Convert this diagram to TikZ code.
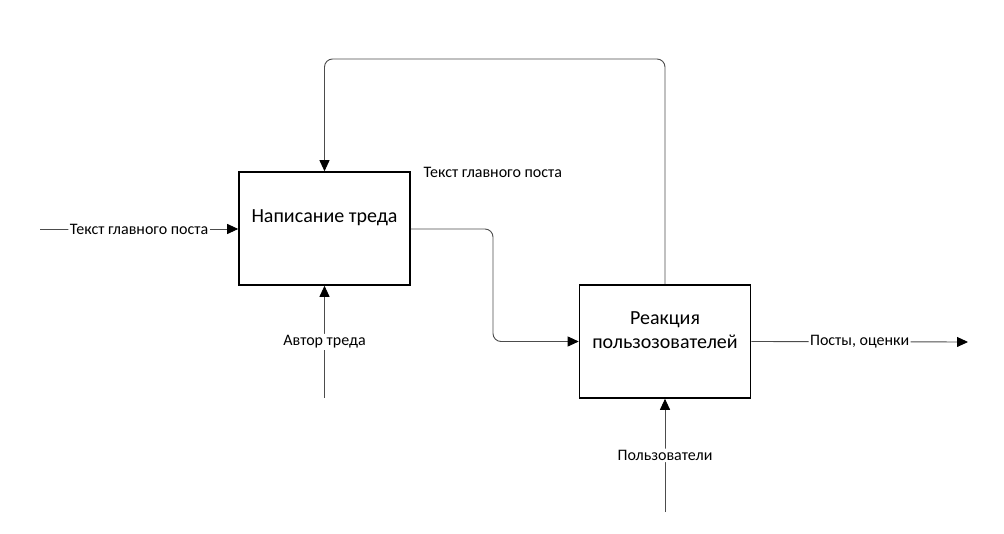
\documentclass[tikz,border=0pt]{standalone}
\usepackage{fontspec}
\setmainfont{Carlito}
\usetikzlibrary{arrows.meta}
\begin{document}
\begin{tikzpicture}[x=1pt,y=-1pt,
  fbox/.style={draw=black,line width=1.6pt,minimum width=171pt,minimum height=113pt,inner sep=0pt},
  btext/.style={font=\fontsize{20}{24}\selectfont,align=center,yshift=11pt},
  conn/.style={draw=black!70,line width=0.9pt,rounded corners=8pt},
  tip/.style={-{Triangle[length=11pt,width=10pt,color=black]}},
  lbl/.style={fill=white,inner sep=1.5pt,font=\fontsize{16}{18}\selectfont},
  plain/.style={inner sep=1.5pt,font=\fontsize{16}{18}\selectfont}]
\useasboundingbox (0,0) rectangle (1004,534);
\node[fbox,label={[btext]center:Написание треда}] (b1) at (324.5,228.5) {};
\node[fbox,label={[btext]center:Реакция\\пользозователей}] (b2) at (665,341.5) {};
\coordinate (in1) at (40,229);
\coordinate (m1) at (324.5,398);
\coordinate (m2) at (665,512);
\coordinate (out) at (968,342);
\coordinate (top1) at (665,59);
\coordinate (mid) at (493,229);
% input
\draw[conn,tip] (in1) -- node[lbl,pos=0.5] {Текст главного поста} (b1.west |- in1);
% output of box1 to box2
\draw[conn,tip] (b1.east |- mid) -- (mid) -- (mid |- b2.west) -- (b2.west);
% feedback
\draw[conn,tip] (b2.north) -- (top1) -- (b1.north |- top1) -- (b1.north);
\node[plain,anchor=west] (fbl) at (422,172) {Текст главного поста};
% mechanisms
\draw[conn,tip] (m1) -- node[lbl,pos=0.5] {Автор треда} (b1.south);
\draw[conn,tip] (m2) -- node[lbl,pos=0.5] {Пользователи} (b2.south);
% output
\draw[conn,tip] (b2.east) -- node[lbl,pos=0.5] {Посты, оценки} (out);
\end{tikzpicture}
\end{document}
